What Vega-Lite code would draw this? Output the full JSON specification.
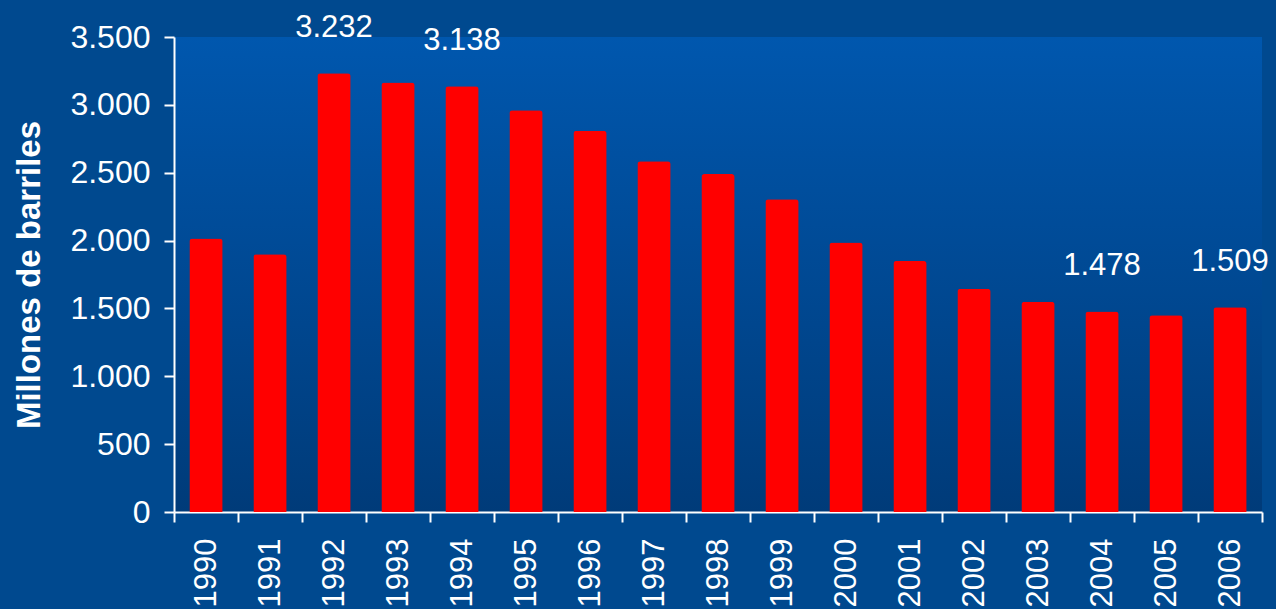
{
  "$schema": "https://vega.github.io/schema/vega-lite/v6.json",
  "autosize": {"type": "none"},
  "padding": {"left": 174, "top": 37, "right": 14, "bottom": 97},
  "width": 1088,
  "height": 475,
  "background": "#00498f",
  "config": {
    "locale": {"number": {"decimal": ",", "thousands": ".", "grouping": [3], "currency": ["", " €"]}},
    "view": {
      "stroke": null,
      "fill": {"gradient": "linear", "x1": 0, "y1": 0, "x2": 0, "y2": 1,
        "stops": [{"offset": 0, "color": "#0057ae"}, {"offset": 1, "color": "#003b79"}]}
    },
    "font": "Liberation Sans"
  },
  "data": {
    "values": [
      {"year": "1990", "value": 2015, "label": ""},
      {"year": "1991", "value": 1900, "label": ""},
      {"year": "1992", "value": 3232, "label": "3.232"},
      {"year": "1993", "value": 3165, "label": ""},
      {"year": "1994", "value": 3138, "label": "3.138"},
      {"year": "1995", "value": 2960, "label": ""},
      {"year": "1996", "value": 2810, "label": ""},
      {"year": "1997", "value": 2585, "label": ""},
      {"year": "1998", "value": 2490, "label": ""},
      {"year": "1999", "value": 2305, "label": ""},
      {"year": "2000", "value": 1985, "label": ""},
      {"year": "2001", "value": 1850, "label": ""},
      {"year": "2002", "value": 1645, "label": ""},
      {"year": "2003", "value": 1550, "label": ""},
      {"year": "2004", "value": 1478, "label": "1.478"},
      {"year": "2005", "value": 1450, "label": ""},
      {"year": "2006", "value": 1509, "label": "1.509"}
    ]
  },
  "encoding": {
    "x": {
      "field": "year", "type": "nominal", "sort": null,
      "scale": {"paddingInner": 0, "paddingOuter": 0},
      "axis": {
        "title": null, "labelAngle": -90, "labelAlign": "right", "labelBaseline": "middle",
        "labelFontSize": 31, "labelColor": "white", "labelPadding": 16,
        "domainColor": "white", "domainWidth": 2,
        "tickColor": "white", "tickWidth": 2, "tickSize": 10, "tickBand": "extent"
      }
    },
    "y": {
      "field": "value", "type": "quantitative",
      "scale": {"domain": [0, 3500], "nice": false},
      "axis": {
        "title": "Millones de barriles", "titleColor": "white", "titleFontSize": 33,
        "titleFontWeight": "bold", "titlePadding": 23,
        "values": [0, 500, 1000, 1500, 2000, 2500, 3000, 3500],
        "format": ",d", "labelFontSize": 32, "labelColor": "white", "labelPadding": 14,
        "domainColor": "white", "domainWidth": 2,
        "tickColor": "white", "tickWidth": 2, "tickSize": 10, "grid": false
      }
    }
  },
  "layer": [
    {"mark": {"type": "bar", "color": "#ff0000", "cornerRadiusEnd": 3, "width": {"band": 0.52}}},
    {
      "mark": {"type": "text", "color": "white", "fontSize": 31, "baseline": "alphabetic", "dy": -36},
      "encoding": {"text": {"field": "label"}}
    }
  ]
}
